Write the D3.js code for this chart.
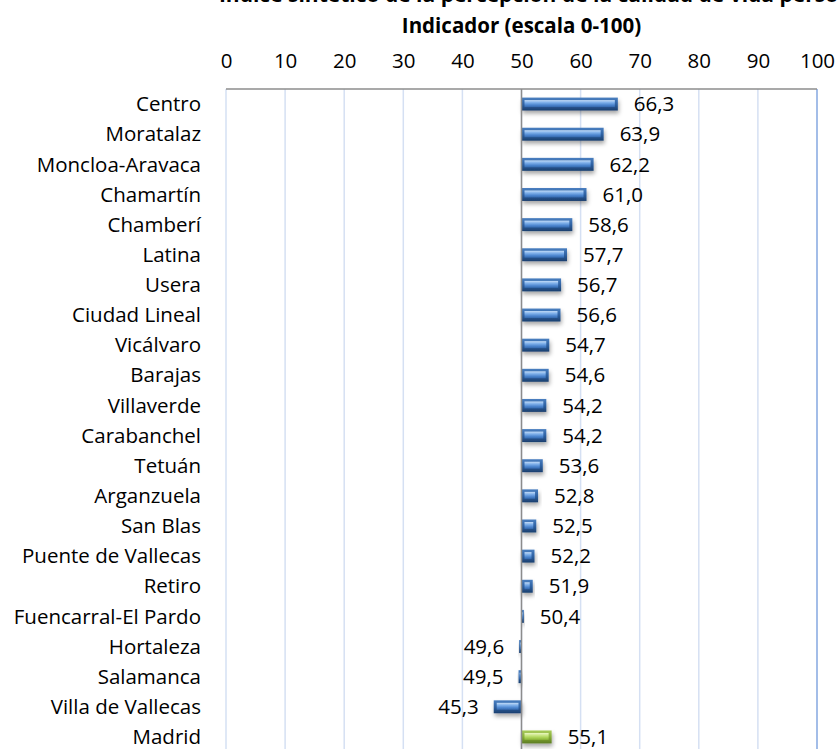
<!DOCTYPE html>
<html>
<head>
<meta charset="utf-8">
<script src="https://cdn.jsdelivr.net/npm/d3@7"></script>
<style>
  body { margin: 0; background: #fff; }
  text { font-family: "Open Sans", sans-serif; fill: #000; }
</style>
</head>
<body>
<div id="chart"></div>
<script>
// distritos y valor del indicador (escala 0-100)
const districts = ["Centro", "Moratalaz", "Moncloa-Aravaca", "Chamartín", "Chamberí", "Latina",
  "Usera", "Ciudad Lineal", "Vicálvaro", "Barajas", "Villaverde", "Carabanchel", "Tetuán",
  "Arganzuela", "San Blas", "Puente de Vallecas", "Retiro", "Fuencarral-El Pardo", "Hortaleza",
  "Salamanca", "Villa de Vallecas", "Madrid"];
const values = [66.3, 63.9, 62.2, 61.0, 58.6, 57.7, 56.7, 56.6, 54.7, 54.6, 54.2, 54.2, 53.6,
  52.8, 52.5, 52.2, 51.9, 50.4, 49.6, 49.5, 45.3, 55.1];
const ticks = [0, 10, 20, 30, 40, 50, 60, 70, 80, 90, 100];
const baseline = 50;
const totalName = "Madrid";

const W = 838, H = 749;
const plot = { left: 226, right: 817, top: 89, bottom: 752 };
const fontSize = "20.5px";

const svg = d3.select("#chart").append("svg")
  .attr("width", W).attr("height", H);

const defs = svg.append("defs");
function barGrad(id, stops) {
  const g = defs.append("linearGradient").attr("id", id)
    .attr("x1", 0).attr("y1", 0).attr("x2", 0).attr("y2", 1);
  stops.forEach(s => g.append("stop").attr("offset", s[0]).attr("stop-color", s[1]));
}
barGrad("blueOuter", [[0, "#4a7fc0"], [0.5, "#2f62a3"], [1, "#1b3f6e"]]);
barGrad("blueInner", [[0, "#c4dcf7"], [0.35, "#7fb0ea"], [0.7, "#4d86cf"], [1, "#3468ad"]]);
barGrad("greenOuter", [[0, "#a8cc5a"], [0.5, "#86ad38"], [1, "#5d7d22"]]);
barGrad("greenInner", [[0, "#eaf7c4"], [0.35, "#c9e683"], [0.7, "#a6cf52"], [1, "#89b23a"]]);

const shadow = defs.append("filter").attr("id", "shadow")
  .attr("x", "-20%").attr("y", "-50%").attr("width", "140%").attr("height", "220%");
shadow.append("feDropShadow").attr("dx", 1).attr("dy", 3).attr("stdDeviation", 2)
  .attr("flood-color", "#000").attr("flood-opacity", 0.35);

const x = d3.scaleLinear().domain([0, 100]).range([plot.left, plot.right]);
const y = d3.scaleBand().domain(districts).range([plot.top, plot.bottom]).paddingInner(0.57).paddingOuter(0.285);

// título (recortado en la parte superior)
svg.append("text")
  .attr("x", 545).attr("y", 1.5)
  .attr("text-anchor", "middle")
  .style("font-weight", "bold").style("font-size", "21px")
  .text("Índice sintético de la percepción de la calidad de vida personal");

svg.append("text")
  .attr("x", x(50)).attr("y", 33)
  .attr("text-anchor", "middle")
  .style("font-weight", "bold").style("font-size", "20.5px")
  .text("Indicador (escala 0-100)");

// rejilla
svg.append("g").selectAll("line")
  .data(ticks)
  .enter().append("line")
  .attr("x1", d => x(d)).attr("x2", d => x(d))
  .attr("y1", plot.top).attr("y2", H)
  .attr("stroke", d => d === 100 ? "#a3bde8" : "#d5e0f3")
  .attr("stroke-width", d => d === 100 ? 2 : 1.5);

// eje superior
const xAxis = d3.axisTop(x).tickValues(ticks).tickSize(0).tickPadding(0);
const ax = svg.append("g").attr("transform", "translate(0,68)").call(xAxis);
ax.select(".domain").remove();
ax.selectAll("text").style("font-size", fontSize).style("font-family", "'Open Sans', sans-serif");

svg.append("line")
  .attr("x1", plot.left).attr("x2", plot.right)
  .attr("y1", plot.top).attr("y2", plot.top)
  .attr("stroke", "#8c8c8c").attr("stroke-width", 1.5);

// barras
const data = districts.map((d, i) => ({ name: d, value: values[i] }));
const bars = svg.append("g").selectAll("g")
  .data(data)
  .enter().append("g")
  .attr("filter", "url(#shadow)");

const bx0 = d => x(Math.min(d.value, baseline));
const bw = d => Math.abs(x(d.value) - x(baseline));
const isTotal = d => d.name === totalName;

bars.append("rect")
  .attr("x", bx0).attr("y", d => y(d.name))
  .attr("width", bw).attr("height", y.bandwidth())
  .attr("fill", d => isTotal(d) ? "url(#greenOuter)" : "url(#blueOuter)");

bars.append("rect")
  .attr("x", d => bx0(d) + Math.min(3, bw(d) / 3))
  .attr("y", d => y(d.name) + 2.5)
  .attr("width", d => Math.max(0, bw(d) - 2 * Math.min(3, bw(d) / 3)))
  .attr("height", y.bandwidth() - 6)
  .attr("fill", d => isTotal(d) ? "url(#greenInner)" : "url(#blueInner)");

// eje vertical en 50
svg.append("line")
  .attr("x1", x(baseline)).attr("x2", x(baseline))
  .attr("y1", plot.top).attr("y2", H)
  .attr("stroke", "#8c8c8c").attr("stroke-width", 1.5);

// etiquetas de categoría
svg.append("g").selectAll("text")
  .data(data)
  .enter().append("text")
  .attr("x", 201)
  .attr("y", d => y(d.name) + y.bandwidth() / 2)
  .attr("dy", "0.35em")
  .attr("text-anchor", "end")
  .style("font-size", fontSize)
  .text(d => d.name);

// etiquetas de valor
const fmt = v => v.toFixed(1).replace(".", ",");
svg.append("g").selectAll("text")
  .data(data)
  .enter().append("text")
  .attr("x", d => d.value >= baseline ? x(d.value) + 16 : x(d.value) - 15)
  .attr("y", d => y(d.name) + y.bandwidth() / 2)
  .attr("dy", "0.35em")
  .attr("text-anchor", d => d.value >= baseline ? "start" : "end")
  .style("font-size", fontSize)
  .text(d => fmt(d.value));
</script>
</body>
</html>
